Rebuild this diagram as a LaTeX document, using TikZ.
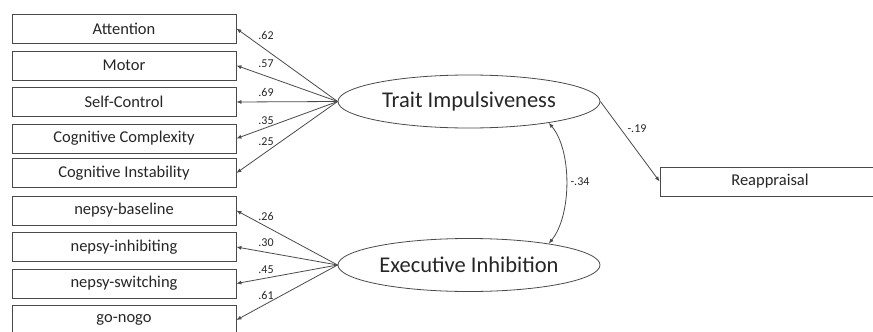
\documentclass[tikz,border=0pt]{standalone}
\usepackage{fontspec}
\setmainfont{Carlito}
\usetikzlibrary{arrows.meta, shapes.geometric}
\definecolor{cline}{HTML}{4A4A4A}
\definecolor{ctext}{HTML}{262626}
\tikzset{
  every picture/.style={line width=0.8pt},
  box/.style={draw=cline, minimum width=224pt, minimum height=29pt, inner sep=0pt, font=\fontsize{16.5}{18}\selectfont, text=ctext},
  latent/.style={draw=cline, ellipse, minimum width=262pt, minimum height=53pt, inner sep=0pt, font=\fontsize{22.5}{25}\selectfont, text=ctext},
  arrow/.style={-{Latex[length=5pt, width=4pt]}, draw=cline},
  coef/.style={font=\fontsize{12}{13}\selectfont, text=ctext, inner sep=1pt},
}
\begin{document}
\begin{tikzpicture}[x=1pt, y=-1pt]
  \useasboundingbox (0,0) rectangle (873,332);
  \node[latent] (trait) at (469, 101.5) {Trait Impulsiveness};
  \node[latent] (exec) at (469, 265) {Executive Inhibition};
  % indicators of trait impulsiveness
  \foreach \i/\y/\t/\w/\ly in {1/28.5/Attention/.62/35, 2/65.5/Motor/.57/64, 3/102/Self-Control/.69/92,
      4/138.5/Cognitive Complexity/.35/121, 5/173/Cognitive Instability/.25/142} {
    \node[box] (t\i) at (124, \y) {\t};
    \draw[arrow] (trait.west) -- (t\i.east);
    \node[coef] (tw\i) at (266, \ly) {\w};
  }
  % indicators of executive inhibition
  \foreach \i/\y/\t/\w/\ly in {1/210.5/nepsy-baseline/.26/216, 2/247/nepsy-inhibiting/.30/243,
      3/283.5/nepsy-switching/.45/270, 4/320/go-nogo/.61/295} {
    \node[box] (e\i) at (124, \y) {\t};
    \draw[arrow] (exec.west) -- (e\i.east);
    \node[coef] (ew\i) at (266, \ly) {\w};
  }
  \node[box, minimum width=220pt] (reapp) at (770, 181.5) {Reappraisal};
  \draw[arrow] (trait.east) -- (reapp.west);
  \node[coef] (rw) at (637, 129) {-.19};
  \draw[{Latex[length=5pt, width=4pt]}-{Latex[length=5pt, width=4pt]}, draw=cline]
    (trait.-15.5) .. controls (572,150) and (572,215) .. (exec.15.5);
  \node[coef] (cw) at (580, 182) {-.34};
\end{tikzpicture}
\end{document}
